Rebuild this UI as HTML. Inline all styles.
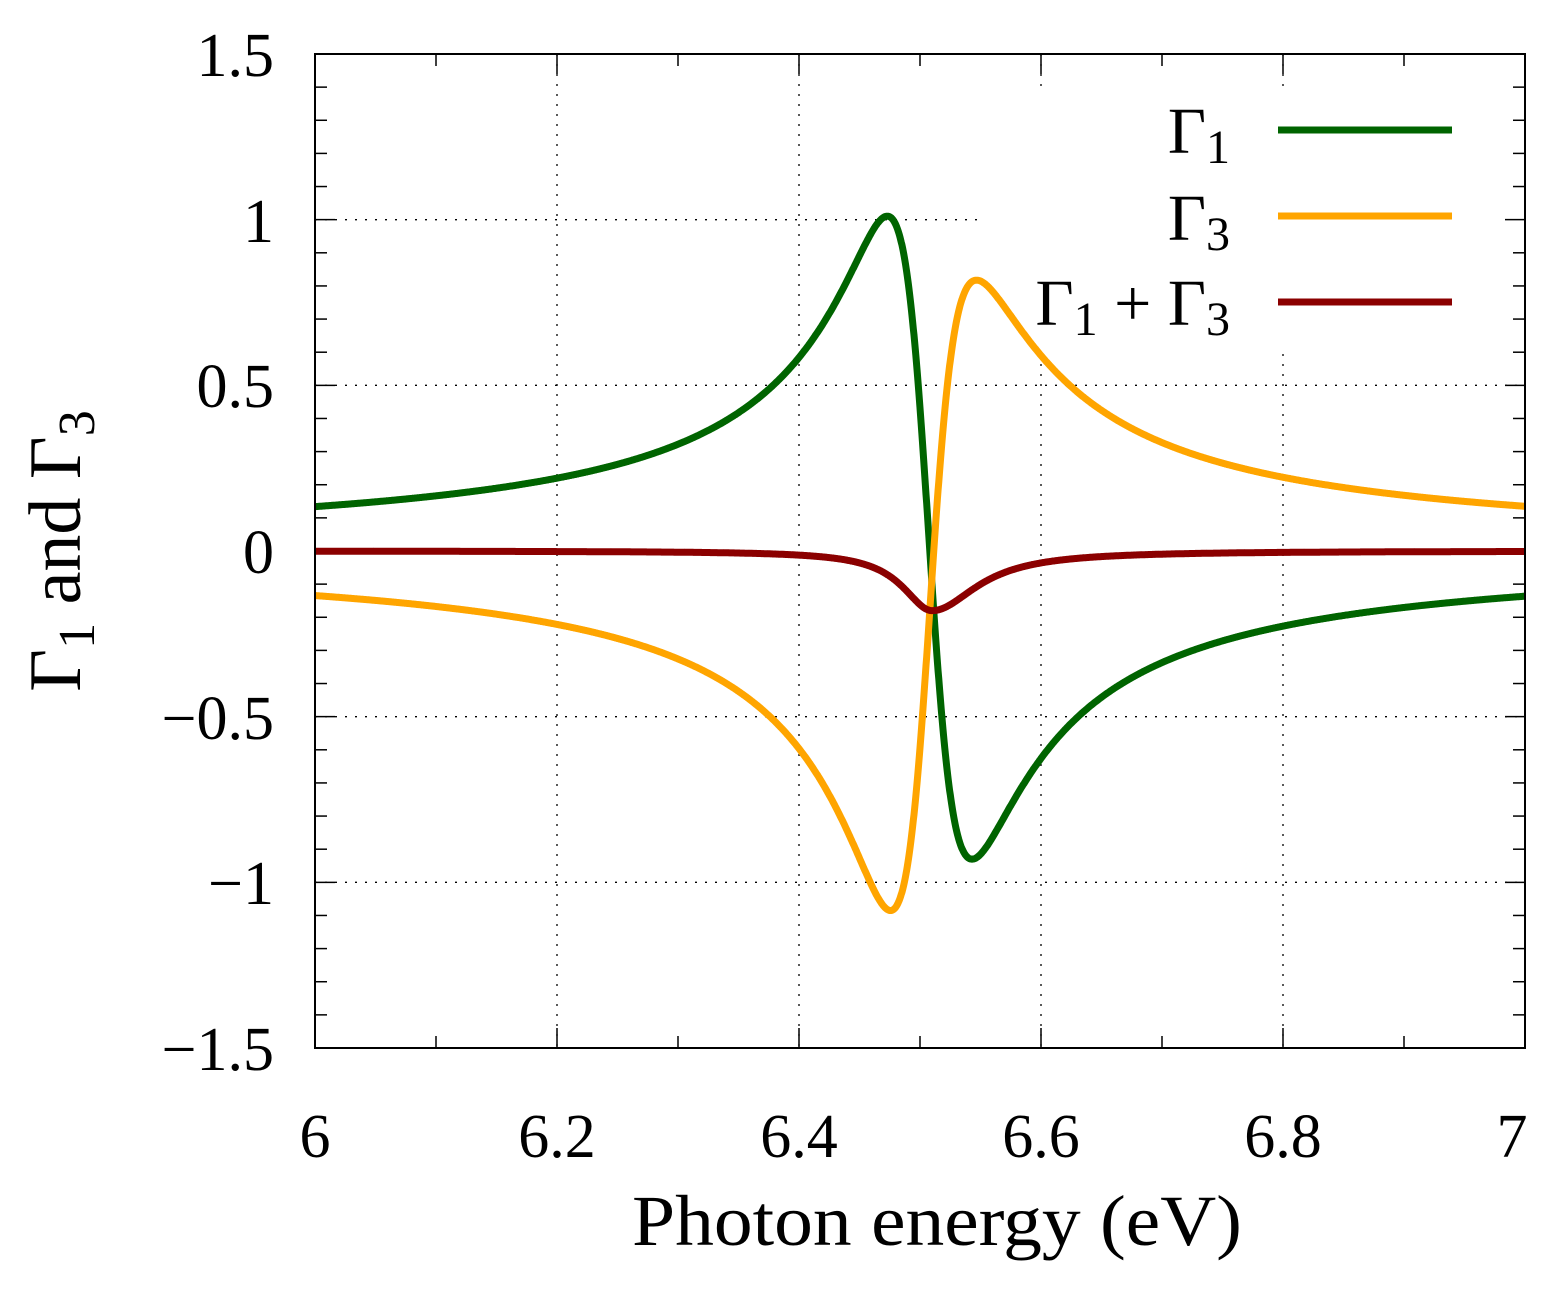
<!DOCTYPE html>
<html><head><meta charset="utf-8"><style>
body{margin:0;background:#fff}
svg text{font-family:"Liberation Serif",serif;fill:#000}
</style></head><body>
<svg id="s" width="1562" height="1286" viewBox="0 0 1562 1286" xmlns="http://www.w3.org/2000/svg">
<g id="grid" stroke="#000" stroke-width="1.3" stroke-dasharray="2,8"></g>
<rect x="985" y="92" width="535" height="255" fill="#fff"/>
<g id="ticks" stroke="#000" stroke-width="1.5"></g>
<g id="curves" fill="none" stroke-width="7" stroke-linejoin="round"></g>
<rect x="315" y="54" width="1210" height="994" fill="none" stroke="#000" stroke-width="2"/>
<g font-size="62" text-anchor="end">
<text x="274" y="76">1.5</text>
<text x="274" y="242">1</text>
<text x="274" y="407">0.5</text>
<text x="274" y="573">0</text>
<text x="274" y="739">−0.5</text>
<text x="274" y="904">−1</text>
<text x="274" y="1070">−1.5</text>
</g>
<g font-size="62" text-anchor="middle">
<text x="315" y="1157">6</text>
<text x="557" y="1157">6.2</text>
<text x="799" y="1157">6.4</text>
<text x="1041" y="1157">6.6</text>
<text x="1283" y="1157">6.8</text>
<text x="1512" y="1157">7</text>
</g>
<text x="632" y="1245" font-size="72" textLength="610" lengthAdjust="spacingAndGlyphs">Photon energy (eV)</text>
<text transform="translate(80,551) rotate(-90)" font-size="74" text-anchor="middle">Γ<tspan font-size="52" dy="14">1</tspan><tspan dy="-14"> and Γ</tspan><tspan font-size="52" dy="14">3</tspan></text>
<g font-size="66" text-anchor="end">
<text x="1230" y="153">Γ<tspan font-size="48" dy="10">1</tspan></text>
<text x="1230" y="240">Γ<tspan font-size="48" dy="10">3</tspan></text>
<text x="1230" y="325">Γ<tspan font-size="48" dy="10">1</tspan><tspan dy="-10"> + Γ</tspan><tspan font-size="48" dy="10">3</tspan></text>
</g>
<g stroke-width="7">
<line x1="1278" y1="130" x2="1452" y2="130" stroke="#006400"/>
<line x1="1278" y1="216" x2="1452" y2="216" stroke="#FFA500"/>
<line x1="1278" y1="302" x2="1452" y2="302" stroke="#8B0000"/>
</g>
</svg>
<script>
const X=e=>315+(e-6)*1210, Y=v=>551-v*331.33;
const ns="http://www.w3.org/2000/svg";
function el(p,t,a){const n=document.createElementNS(ns,t);for(const k in a)n.setAttribute(k,a[k]);document.getElementById(p).appendChild(n);}
[0.2,0.4,0.6,0.8].forEach(e=>el("grid","line",{x1:X(6+e),y1:54,x2:X(6+e),y2:1048}));
[-1,-0.5,0.5,1].forEach(v=>el("grid","line",{x1:315,y1:Y(v),x2:1525,y2:Y(v)}));
for(let i=1;i<10;i++){const x=X(6+i/10),L=i%2?12:20;el("ticks","line",{x1:x,y1:1048,x2:x,y2:1048-L});el("ticks","line",{x1:x,y1:54,x2:x,y2:54+L});}
for(let i=-14;i<=14;i++){const y=Y(i/10),L=i%5?12:20;el("ticks","line",{x1:315,y1:y,x2:315+L,y2:y});el("ticks","line",{x1:1525,y1:y,x2:1525-L,y2:y});}
const g=0.035,A=1.94,E0=6.507;
const D=e=>A*(E0-e)*g/((e-E0)**2+g*g);
const Lz=(e,c,w)=>w*w/((e-c)**2+w*w);
const S=e=>-0.18*(e<6.51?Lz(e,6.51,0.03):Lz(e,6.51,0.045));
const g1=e=>D(e)+0.06*Lz(e,E0,0.05);
const g3=e=>S(e)-g1(e);
function path(f,c){let d="";for(let i=0;i<=2000;i++){const e=6+i/2000;d+=(i?"L":"M")+X(e).toFixed(1)+","+Y(f(e)).toFixed(1);}el("curves","path",{d:d,stroke:c});}
path(g1,"#006400");path(g3,"#FFA500");path(S,"#8B0000");
</script>
</body></html>
